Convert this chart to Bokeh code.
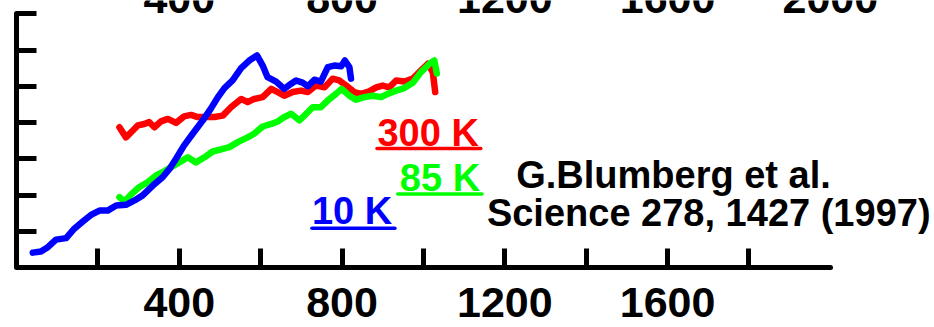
from bokeh.plotting import figure
from bokeh.models import Range1d, FixedTicker
from bokeh.core.properties import value
from bokeh.embed import file_html
from bokeh.resources import INLINE

# Raman shift (cm^-1) and intensity (arb. units) for the three temperatures
shift_10k = [40, 60, 77, 97, 122, 142, 163, 183, 204, 224, 245, 269, 290, 310,
             335, 359, 376, 392, 412, 433, 458, 478, 495, 511, 531, 552, 572,
             591, 605, 617, 638, 658, 675, 687, 703, 716, 732, 748, 765, 781,
             798, 807, 818, 822]
int_10k = [0.41, 0.44, 0.56, 0.77, 0.81, 1.07, 1.27, 1.45, 1.57, 1.57, 1.71,
           1.73, 1.85, 1.99, 2.26, 2.49, 2.72, 3.00, 3.37, 3.69, 4.06, 4.39,
           4.70, 4.95, 5.16, 5.50, 5.71, 5.85, 5.57, 5.25, 5.13, 4.93, 5.07,
           5.16, 5.10, 5.00, 5.18, 5.13, 5.53, 5.57, 5.55, 5.71, 5.53, 5.21]

shift_85k = [253, 265, 281, 302, 322, 343, 359, 380, 400, 421, 441, 462, 482,
             503, 523, 544, 568, 584, 605, 626, 642, 658, 675, 695, 712, 728,
             748, 765, 785, 799, 818, 834, 855, 875, 896, 912, 933, 953, 974,
             994, 1015, 1027, 1033]
int_85k = [1.94, 1.82, 2.01, 2.22, 2.35, 2.54, 2.63, 2.77, 2.90, 3.04, 2.90,
           3.04, 3.20, 3.26, 3.32, 3.46, 3.59, 3.69, 3.89, 3.96, 4.03, 4.15,
           4.24, 4.06, 4.24, 4.42, 4.42, 4.61, 4.79, 4.93, 4.74, 4.63, 4.70,
           4.74, 4.70, 4.79, 4.88, 4.95, 5.10, 5.39, 5.62, 5.71, 5.35]

shift_300k = [253, 269, 286, 298, 314, 326, 339, 355, 372, 392, 412, 429, 445,
              466, 486, 507, 527, 552, 568, 584, 605, 626, 642, 658, 679, 699,
              716, 736, 757, 777, 793, 810, 830, 847, 867, 884, 900, 916, 933,
              953, 974, 990, 1011, 1023, 1029]
int_300k = [3.87, 3.59, 3.78, 3.92, 3.96, 4.01, 3.87, 4.03, 4.10, 3.99, 4.17,
            4.21, 4.15, 4.15, 4.15, 4.19, 4.42, 4.65, 4.56, 4.65, 4.70, 4.93,
            4.84, 4.74, 4.84, 4.88, 4.84, 5.02, 4.97, 5.21, 5.16, 5.02, 4.84,
            4.79, 4.86, 4.97, 5.02, 4.97, 5.16, 5.13, 5.21, 5.39, 5.62, 5.39,
            4.84]

# Axis ticks
labelled_ticks = [400, 800, 1200, 1600]
unlabelled_ticks = [200, 600, 1000, 1400, 1800]
top_ticks = [400, 800, 1200, 1600, 2000]
y_ticks = [1, 2, 3, 4, 5, 6, 7]

series_labels = ["300 K", "85 K", "10 K"]
citation = ["G.Blumberg et al.", "Science 278, 1427 (1997)"]

BLUE, GREEN, RED = "#0000ff", "#00ff00", "#ff0000"
FONT = "Liberation Sans"

p = figure(width=934, height=327, output_backend="svg", toolbar_location=None,
           x_range=Range1d(0, 2256), y_range=Range1d(-1.655, 7.366),
           min_border_left=16, min_border_right=0, min_border_top=0,
           min_border_bottom=0)
p.outline_line_color = None
p.grid.visible = False
p.background_fill_color = "white"
p.border_fill_color = "white"

# bottom axis pinned at zero intensity, ticks pointing inward, labels every 400
xa = p.xaxis[0]
xa.fixed_location = 0
xa.ticker = FixedTicker(ticks=labelled_ticks, minor_ticks=unlabelled_ticks)
xa.bounds = (0, 2000)
xa.axis_line_width = 5
xa.axis_line_color = "black"
xa.axis_line_cap = "round"
xa.major_tick_in = 19
xa.major_tick_out = 0
xa.minor_tick_in = 19
xa.minor_tick_out = 0
xa.major_tick_line_width = 5
xa.minor_tick_line_width = 5
xa.major_tick_line_color = "black"
xa.minor_tick_line_color = "black"
xa.major_label_text_font = FONT
xa.major_label_text_font_style = "bold"
xa.major_label_text_font_size = "43px"
xa.major_label_text_color = "black"
xa.major_label_standoff = 20

# left axis: unlabelled, ticks pointing inward
ya = p.yaxis[0]
ya.ticker = FixedTicker(ticks=y_ticks, minor_ticks=[])
ya.bounds = (0, 7)
ya.axis_line_width = 5
ya.axis_line_color = "black"
ya.axis_line_cap = "round"
ya.major_tick_in = 20
ya.major_tick_out = 0
ya.major_tick_line_width = 5
ya.major_tick_line_color = "black"
ya.minor_tick_in = 0
ya.minor_tick_out = 0
ya.major_label_standoff = 0
ya.major_label_overrides = {t: "" for t in y_ticks}

# top scale labels
p.text(x=top_ticks, y=[7.43] * len(top_ticks), text=[str(t) for t in top_ticks],
       text_font=value(FONT), text_font_style="bold", text_font_size="43px",
       text_align="center", text_baseline="middle", text_color="black")

# spectra
for xs, ys, c in [(shift_300k, int_300k, RED), (shift_85k, int_85k, GREEN),
                  (shift_10k, int_10k, BLUE)]:
    p.line(xs, ys, line_color=c, line_width=6.5, line_join="round",
           line_cap="round")

# temperature labels with underlines
label_pos = [(887, 3.72, 886, 1141, 3.28, RED),
             (942, 2.47, 937, 1144, 2.03, GREEN),
             (726, 1.57, 726, 930, 1.08, BLUE)]
for text, (lx, ly, u0, u1, uy, c) in zip(series_labels, label_pos):
    p.text(x=[lx], y=[ly], text=[text], text_font=value(FONT),
           text_font_style="bold", text_font_size="38px", text_color=c,
           text_align="left", text_baseline="middle")
    p.segment(x0=[u0], y0=[uy], x1=[u1], y1=[uy], line_color=c, line_width=3.5,
              line_cap="round")

# reference note
p.text(x=[1228, 1156], y=[2.55, 1.50], text=citation, text_font=value(FONT),
       text_font_style="bold", text_font_size="38px", text_color="black",
       text_align="left", text_baseline="middle")

open("out.html", "w").write(file_html(p, INLINE))
